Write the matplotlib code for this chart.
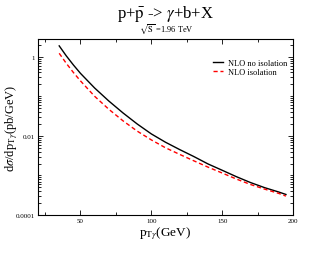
import matplotlib
matplotlib.use("Agg")
import matplotlib.pyplot as plt
import numpy as np
from matplotlib.ticker import LogLocator, MultipleLocator, FixedFormatter, FixedLocator, NullFormatter

plt.rcParams['font.family'] = ['Liberation Serif', 'DejaVu Serif']
plt.rcParams['mathtext.fontset'] = 'stix'

# Data
pt = [35, 40, 45, 50, 60, 70, 80, 90, 100, 110, 120, 130, 140, 150, 160, 170, 180, 190, 195]
no_iso = [1.88, 1.05, 0.62, 0.38, 0.162, 0.076, 0.038, 0.020, 0.0112, 0.0069, 0.0045, 0.0030,
          0.00195, 0.00135, 0.00093, 0.00066, 0.00049, 0.00038, 0.00033]
iso = [1.22, 0.68, 0.40, 0.245, 0.10, 0.047, 0.024, 0.0132, 0.0079, 0.0050, 0.0034, 0.00234,
       0.00162, 0.00115, 0.00081, 0.00059, 0.00045, 0.00035, 0.00030]

y_ticks = [1, 0.01, 0.0001]
y_labels = ['1', '0.01', '0.0001']
x_ticks = [50, 100, 150, 200]


def main():
    fig = plt.figure(figsize=(3.3, 2.55), dpi=100)
    ax = fig.add_axes([0.115, 0.153, 0.773, 0.690])

    ax.plot(pt, no_iso, color='black', lw=1.0, label='NLO no isolation')
    ax.plot(pt, iso, color='red', lw=1.0, ls=(0, (3, 2)), label='NLO isolation')

    ax.set_yscale('log')
    ax.set_xlim(20, 200)
    ax.set_ylim(1e-4, 2.8)

    ax.yaxis.set_major_locator(FixedLocator(y_ticks))
    ax.yaxis.set_major_formatter(FixedFormatter(y_labels))
    ax.yaxis.set_minor_locator(LogLocator(base=10, subs=np.arange(1, 10), numticks=20))
    ax.yaxis.set_minor_formatter(NullFormatter())
    ax.xaxis.set_major_locator(FixedLocator(x_ticks))
    ax.xaxis.set_minor_locator(MultipleLocator(25))

    ax.tick_params(which='both', direction='in', top=True, right=True, labelsize=5, width=0.6, pad=2)
    ax.tick_params(which='major', length=3.5)
    ax.tick_params(which='minor', length=2)
    for s in ax.spines.values():
        s.set_linewidth(0.8)

    ax.set_xlabel(r'p$_{\mathrm{T}\gamma}$(GeV)', fontsize=9.5, labelpad=1)
    ax.set_ylabel(r'd$\sigma$/dp$_{\mathrm{T}\gamma}$(pb/GeV)', fontsize=9)
    ax.yaxis.set_label_coords(-0.072, 0.5)

    fig.text(0.502, 0.945, r'p+$\bar{\mathrm{p}}$ -> $\gamma$+b+X', ha='center', va='center', fontsize=12)
    fig.text(0.505, 0.885, r'$\sqrt{\mathrm{S}}$ =1.96 TeV', ha='center', va='center', fontsize=6)

    ax.legend(loc='upper right', bbox_to_anchor=(1.0, 0.92), frameon=False, fontsize=6,
              handlelength=1.2, handletextpad=0.6, labelspacing=0.1, borderaxespad=0.3)

    fig.savefig('out.png', dpi=100)


if __name__ == "__main__":
    main()
